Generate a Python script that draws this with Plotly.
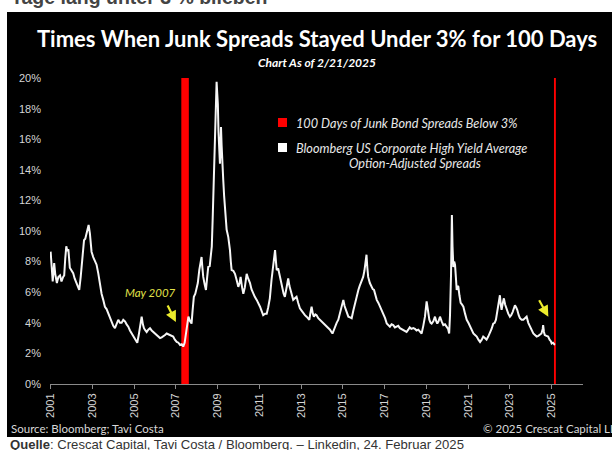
import plotly.graph_objects as go

# ---- data ----
years = [
    2001.00, 2001.05, 2001.10, 2001.17, 2001.22, 2001.30, 2001.37, 2001.45, 2001.52, 2001.60,
    2001.65, 2001.70, 2001.75, 2001.80, 2001.85, 2001.92, 2002.00, 2002.08, 2002.15, 2002.25,
    2002.32, 2002.37, 2002.44, 2002.50, 2002.55, 2002.60, 2002.66, 2002.72, 2002.78, 2002.82,
    2002.88, 2002.92, 2002.96, 2003.04, 2003.12, 2003.20, 2003.28, 2003.36, 2003.44, 2003.52,
    2003.60, 2003.68, 2003.76, 2003.84, 2003.92, 2004.00, 2004.08, 2004.16, 2004.24, 2004.32,
    2004.40, 2004.48, 2004.56, 2004.64, 2004.72, 2004.80, 2004.88, 2004.96, 2005.04, 2005.10,
    2005.15, 2005.22, 2005.28, 2005.36, 2005.42, 2005.47, 2005.54, 2005.60, 2005.68, 2005.76,
    2005.84, 2005.92, 2006.00, 2006.08, 2006.16, 2006.24, 2006.32, 2006.40, 2006.48, 2006.56,
    2006.64, 2006.72, 2006.80, 2006.87, 2006.95, 2007.04, 2007.12, 2007.20, 2007.28, 2007.35,
    2007.42, 2007.50, 2007.55, 2007.60, 2007.68, 2007.75, 2007.80, 2007.86, 2007.93, 2007.99,
    2008.05, 2008.12, 2008.18, 2008.23, 2008.27, 2008.31, 2008.38, 2008.44, 2008.50, 2008.55,
    2008.62, 2008.66, 2008.72, 2008.76, 2008.80, 2008.84, 2008.88, 2008.92, 2008.95, 2008.98,
    2009.01, 2009.04, 2009.07, 2009.11, 2009.14, 2009.16, 2009.19, 2009.22, 2009.27, 2009.31,
    2009.35, 2009.40, 2009.43, 2009.51, 2009.55, 2009.59, 2009.63, 2009.67, 2009.75, 2009.83,
    2009.91, 2009.99, 2010.05, 2010.10, 2010.16, 2010.23, 2010.30, 2010.35, 2010.39, 2010.46,
    2010.55, 2010.62, 2010.70, 2010.78, 2010.87, 2010.95, 2011.03, 2011.10, 2011.18, 2011.27,
    2011.35, 2011.42, 2011.50, 2011.58, 2011.63, 2011.70, 2011.75, 2011.80, 2011.83, 2011.90,
    2011.98, 2012.05, 2012.11, 2012.16, 2012.22, 2012.30, 2012.38, 2012.44, 2012.50, 2012.56,
    2012.62, 2012.70, 2012.78, 2012.86, 2012.94, 2013.02, 2013.10, 2013.18, 2013.26, 2013.33,
    2013.39, 2013.45, 2013.50, 2013.56, 2013.61, 2013.68, 2013.74, 2013.82, 2013.90, 2013.98,
    2014.06, 2014.14, 2014.22, 2014.30, 2014.38, 2014.45, 2014.50, 2014.56, 2014.62, 2014.70,
    2014.78, 2014.85, 2014.90, 2014.96, 2015.02, 2015.08, 2015.15, 2015.22, 2015.26, 2015.34,
    2015.42, 2015.50, 2015.58, 2015.66, 2015.74, 2015.80, 2015.85, 2015.91, 2015.97, 2016.03,
    2016.09, 2016.13, 2016.17, 2016.21, 2016.29, 2016.37, 2016.43, 2016.49, 2016.56, 2016.62,
    2016.70, 2016.78, 2016.86, 2016.94, 2017.02, 2017.10, 2017.18, 2017.25, 2017.33, 2017.41,
    2017.49, 2017.57, 2017.65, 2017.73, 2017.81, 2017.89, 2017.97, 2018.05, 2018.13, 2018.20,
    2018.28, 2018.37, 2018.45, 2018.53, 2018.61, 2018.69, 2018.77, 2018.85, 2018.93, 2019.01,
    2019.06, 2019.14, 2019.20, 2019.25, 2019.33, 2019.41, 2019.47, 2019.52, 2019.58, 2019.65,
    2019.73, 2019.81, 2019.89, 2019.97, 2020.04, 2020.09, 2020.13, 2020.18, 2020.20, 2020.22,
    2020.25, 2020.29, 2020.33, 2020.37, 2020.41, 2020.45, 2020.49, 2020.53, 2020.58, 2020.64,
    2020.70, 2020.77, 2020.85, 2020.93, 2021.01, 2021.09, 2021.17, 2021.25, 2021.33, 2021.41,
    2021.49, 2021.57, 2021.65, 2021.72, 2021.80, 2021.88, 2021.96, 2022.04, 2022.12, 2022.20,
    2022.27, 2022.33, 2022.39, 2022.44, 2022.48, 2022.52, 2022.56, 2022.60, 2022.66, 2022.71,
    2022.77, 2022.84, 2022.92, 2023.00, 2023.06, 2023.13, 2023.19, 2023.24, 2023.30, 2023.35,
    2023.42, 2023.48, 2023.56, 2023.64, 2023.72, 2023.80, 2023.88, 2023.96, 2024.04, 2024.12,
    2024.20, 2024.28, 2024.36, 2024.43, 2024.51, 2024.57, 2024.59, 2024.63, 2024.67, 2024.75,
    2024.83, 2024.90, 2024.96, 2025.00, 2025.06, 2025.12, 2025.15,
]
spreads = [
    8.65, 7.6, 6.7, 7.9, 7.2, 6.6, 7.0, 7.1, 6.7, 7.0,
    7.1, 8.2, 9.0, 8.7, 8.8, 7.6, 7.4, 7.25, 6.9, 6.6,
    6.4, 6.15, 7.0, 8.1, 8.8, 9.4, 9.5, 9.85, 10.0, 10.4,
    9.85, 9.0, 8.65, 8.3, 8.1, 7.8, 7.25, 6.5, 5.9, 5.5,
    5.05, 4.9, 4.6, 4.3, 4.0, 3.8, 3.65, 3.9, 4.2, 4.0,
    4.0, 4.2, 4.1, 3.9, 3.75, 3.5, 3.3, 3.1, 2.9, 2.8,
    2.7, 3.2, 3.75, 4.4, 3.9, 3.65, 3.5, 3.4, 3.55, 3.65,
    3.5, 3.4, 3.3, 3.2, 3.1, 3.0, 3.05, 3.1, 3.2, 3.3,
    3.25, 3.2, 3.15, 3.1, 2.9, 2.75, 2.7, 2.55, 2.6, 2.45,
    2.7, 3.5, 4.0, 4.4, 4.1, 3.95, 4.8, 5.7, 5.9, 6.35,
    6.6, 7.45, 7.8, 8.3, 7.6, 7.0, 6.5, 6.15, 7.0, 7.65,
    7.7, 8.1, 9.0, 10.7, 12.8, 15.1, 17.0, 18.6, 19.75, 19.0,
    18.3, 16.5, 15.1, 14.4, 15.5, 16.8, 15.6, 15.0, 13.3, 12.3,
    11.4, 10.6, 10.1, 9.6, 9.2, 8.75, 8.0, 7.45, 7.4, 7.2,
    6.8, 6.35, 6.6, 7.0, 6.4, 5.9, 6.3, 6.8, 7.2, 6.9,
    6.6, 6.2, 5.9, 5.7, 5.5, 5.3, 5.05, 4.8, 4.5, 4.6,
    4.6, 5.0, 5.6, 6.8, 7.45, 8.0, 8.75, 7.9, 7.45, 7.55,
    7.0, 6.5, 6.15, 5.9, 5.7, 6.3, 6.9, 6.4, 6.15, 5.8,
    5.5, 5.6, 5.7, 5.3, 4.95, 4.8, 4.6, 4.5, 4.4, 4.3,
    4.2, 4.7, 5.05, 4.6, 4.4, 4.55, 4.5, 4.3, 4.2, 4.05,
    3.95, 3.85, 3.75, 3.65, 3.55, 3.4, 3.3, 3.5, 3.75, 4.0,
    4.2, 4.6, 4.85, 5.2, 5.5, 5.1, 4.85, 4.6, 4.4, 4.35,
    4.3, 4.8, 5.3, 5.7, 6.15, 6.4, 6.6, 6.8, 7.0, 7.4,
    7.9, 8.45, 7.6, 7.0, 6.6, 6.35, 6.2, 6.15, 5.8, 5.5,
    5.3, 5.05, 4.8, 4.6, 4.3, 3.95, 3.85, 3.75, 3.9, 3.85,
    3.7, 3.75, 3.8, 3.65, 3.6, 3.55, 3.5, 3.4, 3.55, 3.7,
    3.6, 3.65, 3.6, 3.5, 3.55, 3.4, 3.3, 3.8, 4.4, 5.4,
    4.8, 4.2, 4.0, 3.95, 4.1, 4.4, 4.1, 3.95, 4.1, 4.4,
    4.1, 3.85, 3.9, 3.75, 3.6, 3.3, 4.5, 7.2, 9.5, 11.05,
    9.0, 7.65, 8.0, 7.8, 7.0, 6.15, 6.4, 6.35, 5.8, 5.3,
    5.2, 5.05, 4.6, 4.2, 4.0, 3.75, 3.5, 3.3, 3.2, 3.1,
    2.9, 2.75, 2.9, 3.1, 3.0, 2.9, 3.1, 3.3, 3.6, 3.95,
    4.0, 4.2, 4.8, 5.3, 5.6, 5.8, 5.2, 4.85, 5.3, 5.6,
    5.2, 4.85, 4.6, 4.4, 4.5, 4.7, 5.0, 5.15, 5.0, 4.85,
    4.5, 4.3, 4.2, 4.2, 4.3, 4.4, 4.0, 3.75, 3.5, 3.3,
    3.2, 3.1, 3.15, 3.2, 3.3, 3.6, 3.85, 3.4, 3.2, 3.15,
    3.1, 2.9, 2.8, 2.65, 2.7, 2.6, 2.65,
]

# periods with 100 days of junk spreads below 3% (decimal years)
period_start = [2007.26, 2025.11]
period_end = [2007.62, 2025.20]
period_top = 20

tick_years = [2001, 2003, 2005, 2007, 2009, 2011, 2013, 2015, 2017, 2019, 2021, 2023, 2025]
tick_labels = [str(y) for y in tick_years]
y_ticks = [0, 2, 4, 6, 8, 10, 12, 14, 16, 18, 20]
y_labels = [f"{v}%" for v in y_ticks]

# ---- figure geometry helpers (pixels -> paper) ----
W, H = 612, 450
ML, MR, MT, MB = 50, 29, 75, 66
PW, PH = W - ML - MR, H - MT - MB


def px(x):
    return (x - ML) / PW


def py(y):
    return (H - MB - y) / PH


fig = go.Figure()

fig.add_trace(go.Scatter(
    x=years, y=spreads, mode="lines",
    line=dict(color="#f6f6f6", width=2),
    showlegend=False, hoverinfo="skip",
))

shapes = [
    # black chart panel
    dict(type="rect", xref="paper", yref="paper", layer="below",
         x0=px(7), x1=px(W + 2), y0=py(437), y1=py(12),
         fillcolor="black", line=dict(width=0)),
]
for s, e in zip(period_start, period_end):
    shapes.append(dict(type="rect", xref="x", yref="y", layer="below",
                       x0=s, x1=e, y0=0, y1=period_top,
                       fillcolor="#ff0000", line=dict(width=0)))
# legend swatches
shapes.append(dict(type="rect", xref="paper", yref="paper",
                   x0=px(278), x1=px(287), y0=py(127), y1=py(118),
                   fillcolor="#ff0000", line=dict(width=0)))
shapes.append(dict(type="rect", xref="paper", yref="paper",
                   x0=px(278), x1=px(287), y0=py(152), y1=py(143),
                   fillcolor="white", line=dict(width=0)))

ann_font = "Lato, 'Open Sans', sans-serif"
annotations = [
    dict(text="<b>Tage lang unter 3 % blieben</b>", xref="paper", yref="paper",
         x=px(9), y=py(10), xanchor="left", yanchor="bottom", showarrow=False,
         font=dict(family="Liberation Sans, Arial, sans-serif", size=19.5, color="#444444")),
    dict(text="<b>Times When Junk Spreads Stayed Under 3% for 100 Days</b>", xref="paper", yref="paper",
         x=px(317), y=py(38.5), xanchor="center", yanchor="middle", showarrow=False,
         font=dict(family=ann_font, size=22, color="white")),
    dict(text="<b><i>Chart As of 2/21/2025</i></b>", xref="paper", yref="paper",
         x=px(317), y=py(62.5), xanchor="center", yanchor="middle", showarrow=False,
         font=dict(family=ann_font, size=12, color="white")),
    dict(text="<i>100 Days of Junk Bond Spreads Below 3%</i>", xref="paper", yref="paper",
         x=px(294), y=py(123), xanchor="left", yanchor="middle", showarrow=False,
         font=dict(family=ann_font, size=12.7, color="#e8e8e8")),
    dict(text="<i>Bloomberg US Corporate High Yield Average</i>", xref="paper", yref="paper",
         x=px(294), y=py(147.5), xanchor="left", yanchor="middle", showarrow=False,
         font=dict(family=ann_font, size=12.7, color="#e8e8e8")),
    dict(text="<i>Option-Adjusted Spreads</i>", xref="paper", yref="paper",
         x=px(415), y=py(163), xanchor="center", yanchor="middle", showarrow=False,
         font=dict(family=ann_font, size=12.7, color="#e8e8e8")),
    dict(text="<i>May 2007</i>", xref="x", yref="y",
         x=2005.76, y=6.0, xanchor="center", yanchor="middle", showarrow=False,
         font=dict(family=ann_font, size=11.5, color="#e3e34a")),
    dict(text="", xref="x", yref="y", x=2007.0, y=4.05, ax=-9, ay=-18,
         showarrow=True, arrowhead=2, arrowsize=1, arrowwidth=2.2, arrowcolor="#ecec2c"),
    dict(text="", xref="x", yref="y", x=2024.84, y=4.4, ax=-10, ay=-18,
         showarrow=True, arrowhead=2, arrowsize=1, arrowwidth=2.2, arrowcolor="#ecec2c"),
    dict(text="Source: Bloomberg; Tavi Costa", xref="paper", yref="paper",
         x=px(9), y=py(428), xanchor="left", yanchor="middle", showarrow=False,
         font=dict(family=ann_font, size=11.5, color="#d8d8d8")),
    dict(text="© 2025 Crescat Capital LLC", xref="paper", yref="paper",
         x=px(481), y=py(428), xanchor="left", yanchor="middle", showarrow=False,
         font=dict(family=ann_font, size=11.5, color="#d8d8d8")),
    dict(text="<b>Quelle</b>: Crescat Capital, Tavi Costa / Bloomberg. – Linkedin, 24. Februar 2025",
         xref="paper", yref="paper",
         x=px(8), y=py(444), xanchor="left", yanchor="middle", showarrow=False,
         font=dict(family="'Liberation Sans Narrow', 'Liberation Sans', Arial, sans-serif",
                   size=13.1, color="#333333")),
]

fig.update_layout(
    width=W, height=H,
    margin=dict(l=ML, r=MR, t=MT, b=MB, pad=0),
    paper_bgcolor="white",
    plot_bgcolor="black",
    shapes=shapes,
    annotations=annotations,
    showlegend=False,
    xaxis=dict(
        range=[2000.97, 2026.5], showgrid=False, zeroline=False,
        showline=True, linecolor="#8a8a8a", linewidth=1,
        ticks="outside", ticklen=4, tickcolor="#8a8a8a", tickwidth=1,
        tickvals=tick_years, ticktext=tick_labels, tickangle=-90,
        tickfont=dict(family="Liberation Sans, Arial, sans-serif", size=11, color="#d6d6d6"),
    ),
    yaxis=dict(
        range=[0, 20.2], showgrid=False, zeroline=False, showline=False,
        tickvals=y_ticks, ticktext=y_labels, ticklabelstandoff=8,
        tickfont=dict(family="Liberation Sans, Arial, sans-serif", size=11, color="#d6d6d6"),
    ),
)

fig.write_html("out.html")
